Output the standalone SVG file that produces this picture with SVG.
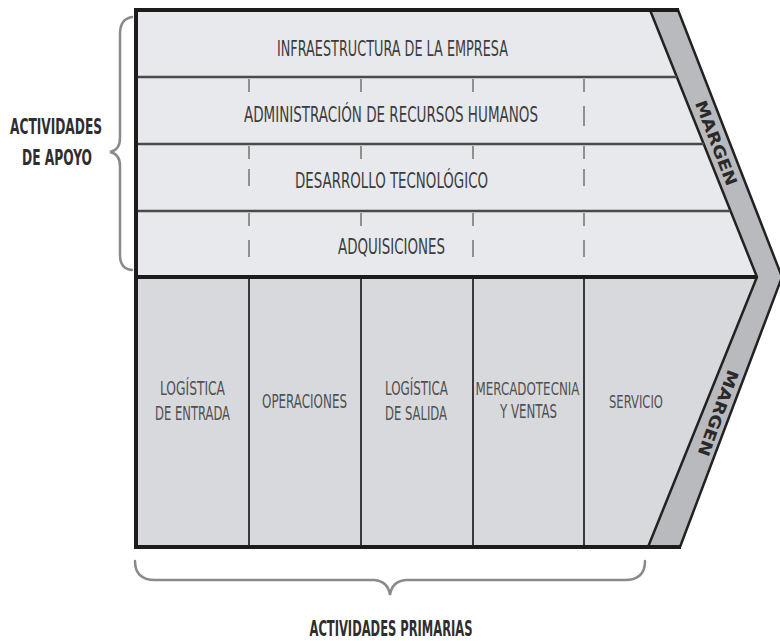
<svg xmlns="http://www.w3.org/2000/svg" width="780" height="641" viewBox="0 0 780 641">
  <style>
    .lbl { font-family: "Liberation Sans Narrow", "DejaVu Sans Condensed", "Liberation Sans", sans-serif; fill: #3c3c3c; text-anchor: middle; }
    .row { font-size: 22px; }
    .prim { font-size: 20px; fill: #505050; }
    .small { font-size: 18px; }
    .side { font-size: 21px; font-weight: bold; fill: #2e2e2e; }
    .margin { font-size: 16px; font-weight: bold; fill: #2a2a2a; }
    .rule { stroke: #4a4a4a; stroke-width: 2.5; fill: none; }
    .heavy { stroke: #1c1c1c; stroke-width: 4; fill: none; }
    .col { stroke: #3a3a3a; stroke-width: 2; fill: none; }
    .dash { stroke: #7a7a7a; stroke-width: 1.6; fill: none; }
    .brace { stroke: #8a8a8a; stroke-width: 2.5; fill: none; stroke-linecap: round; }
  </style>

  <!-- support activities block -->
  <g id="support-area">
    <polygon points="136,10 650,10 757,277 136,277" fill="#e8e9ec"/>
  </g>

  <!-- primary activities block -->
  <g id="primary-area">
    <polygon points="136,277 757,277 648,547 136,547" fill="#d8d9dc"/>
  </g>

  <!-- margin chevron band -->
  <g id="margin-band">
    <polygon points="650,10 678,10 782,277 680,547 648,547 757,277" fill="#b9babd" stroke="#222" stroke-width="2.5" stroke-linejoin="miter"/>
    <text class="lbl margin" x="0" y="0" dominant-baseline="central" textLength="90" lengthAdjust="spacingAndGlyphs" transform="translate(716,143) rotate(69)">MARGEN</text>
    <text class="lbl margin" x="0" y="0" dominant-baseline="central" textLength="90" lengthAdjust="spacingAndGlyphs" transform="translate(718,413) rotate(110)">MARGEN</text>
  </g>

  <!-- row rules, dividers and frame -->
  <g id="connectors">
    <line class="rule" x1="136" y1="77" x2="677" y2="77"/>
    <line class="rule" x1="136" y1="144" x2="704" y2="144"/>
    <line class="rule" x1="136" y1="211" x2="730" y2="211"/>

    <line class="col" x1="249" y1="279" x2="249" y2="546"/>
    <line class="col" x1="361" y1="279" x2="361" y2="546"/>
    <line class="col" x1="473" y1="279" x2="473" y2="546"/>
    <line class="col" x1="584" y1="279" x2="584" y2="546"/>

    <!-- dashed column guides through support rows -->
    <path class="dash" d="M249,79V92 M361,79V92 M473,79V92 M584,79V92 M584,106V126"/>
    <path class="dash" d="M249,146V159 M249,169V186 M361,146V159 M473,146V159 M584,146V159 M584,169V186"/>
    <path class="dash" d="M249,213V226 M249,240V257 M361,213V226 M473,213V226 M473,240V257 M584,213V226 M584,240V257"/>

    <line class="heavy" x1="136" y1="10" x2="679" y2="10"/>
    <line class="heavy" x1="136" y1="277" x2="757" y2="277"/>
    <line class="heavy" x1="136" y1="547" x2="681" y2="547"/>
    <line class="heavy" stroke-width="3" x1="136" y1="8" x2="136" y2="549"/>

    <!-- grouping braces -->
    <path class="brace" d="M132,17 Q120,19 120,34 L120,138 Q120,150 110,152 Q120,154 120,166 L120,255 Q120,269 132,270"/>
    <path class="brace" d="M135,561 Q135,580 155,580 L374,580 Q388,581 390,595 Q392,581 406,580 L625,580 Q645,580 645,561"/>
  </g>

  <g id="infraestructura">
    <text class="lbl row" x="392.5" y="56" textLength="231" lengthAdjust="spacingAndGlyphs">INFRAESTRUCTURA DE LA EMPRESA</text>
  </g>
  <g id="recursos-humanos">
    <text class="lbl row" x="391" y="122" textLength="294" lengthAdjust="spacingAndGlyphs">ADMINISTRACIÓN DE RECURSOS HUMANOS</text>
  </g>
  <g id="desarrollo-tecnologico">
    <text class="lbl row" x="391.5" y="188" textLength="193" lengthAdjust="spacingAndGlyphs">DESARROLLO TECNOLÓGICO</text>
  </g>
  <g id="adquisiciones">
    <text class="lbl row" x="391.5" y="254" textLength="107" lengthAdjust="spacingAndGlyphs">ADQUISICIONES</text>
  </g>

  <g id="logistica-entrada">
    <text class="lbl prim" x="192.5" y="395" textLength="65" lengthAdjust="spacingAndGlyphs">LOGÍSTICA</text>
    <text class="lbl prim" x="192.5" y="420" textLength="75" lengthAdjust="spacingAndGlyphs">DE ENTRADA</text>
  </g>
  <g id="operaciones">
    <text class="lbl prim" x="304.5" y="408" textLength="85" lengthAdjust="spacingAndGlyphs">OPERACIONES</text>
  </g>
  <g id="logistica-salida">
    <text class="lbl prim" x="416.5" y="395" textLength="63" lengthAdjust="spacingAndGlyphs">LOGÍSTICA</text>
    <text class="lbl prim" x="416" y="420" textLength="62" lengthAdjust="spacingAndGlyphs">DE SALIDA</text>
  </g>
  <g id="mercadotecnia">
    <text class="lbl prim small" x="527.5" y="395" textLength="104" lengthAdjust="spacingAndGlyphs">MERCADOTECNIA</text>
    <text class="lbl prim" x="528.5" y="418" textLength="57" lengthAdjust="spacingAndGlyphs">Y VENTAS</text>
  </g>
  <g id="servicio">
    <text class="lbl prim small" x="636" y="408" textLength="54" lengthAdjust="spacingAndGlyphs">SERVICIO</text>
  </g>

  <g id="actividades-apoyo">
    <text class="lbl side" x="56" y="134" textLength="92" lengthAdjust="spacingAndGlyphs">ACTIVIDADES</text>
    <text class="lbl side" x="57" y="165" textLength="70" lengthAdjust="spacingAndGlyphs">DE APOYO</text>
  </g>
  <g id="actividades-primarias">
    <text class="lbl side" x="391" y="636" textLength="163" lengthAdjust="spacingAndGlyphs">ACTIVIDADES PRIMARIAS</text>
  </g>
</svg>
